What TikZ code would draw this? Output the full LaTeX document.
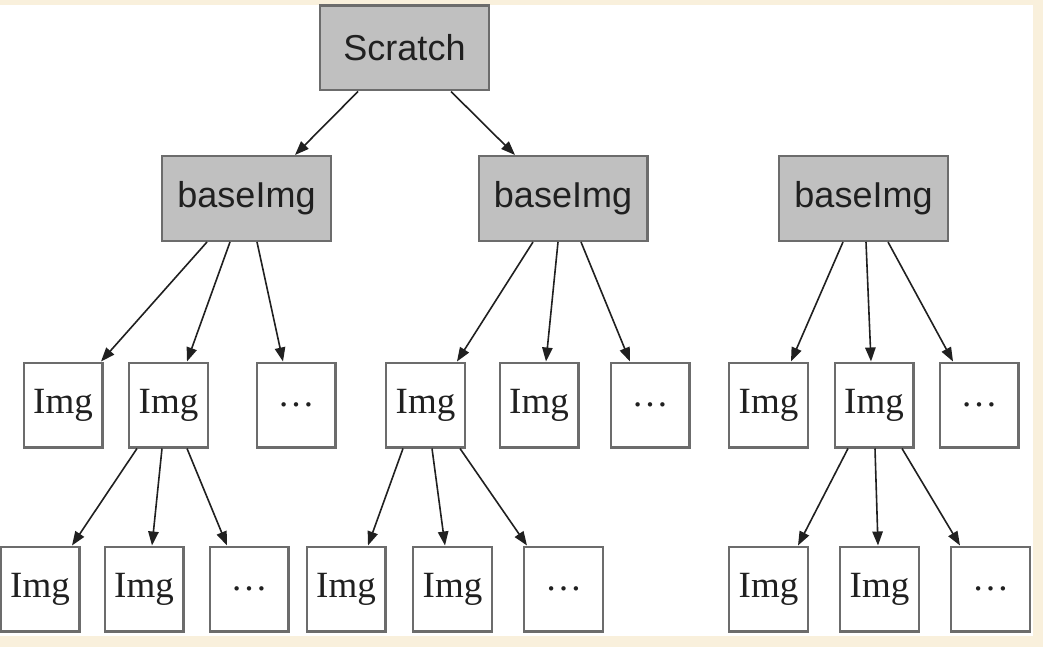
\documentclass[tikz,border=0pt]{standalone}
\usepackage{fontspec}
\setmainfont{Liberation Serif}
\setsansfont{Liberation Sans}
\usepackage{tikz}
\usetikzlibrary{arrows.meta, calc}
\definecolor{cream}{HTML}{F9F0DC}
\definecolor{basegray}{HTML}{C0C0C0}
\definecolor{boxgray}{HTML}{6C6C6C}
\definecolor{inkgray}{HTML}{202020}
\tikzstyle{base} = [rectangle, minimum width=84.3pt, minimum height=42.3pt, inner sep=0pt, text centered, draw=boxgray, line width=1.2pt, fill=basegray, text=inkgray, font=\sffamily\fontsize{18}{21}\selectfont]
\tikzstyle{img} = [rectangle, minimum width=39.3pt, minimum height=42.3pt, inner sep=0pt, text centered, draw=boxgray, line width=1.2pt, fill=white, text=inkgray, font=\fontsize{18.5}{21}\selectfont]
\tikzstyle{arrow} = [line width=0.8pt, draw=inkgray, -{Triangle[length=7pt,width=5.2pt]}]

\begin{document}
\begin{tikzpicture}[x=0.5pt, y=-0.5pt]
\useasboundingbox (0,0) rectangle (1043,647);
\fill [cream] (0,0) rectangle (1043,647);
\fill [white] (0,5) rectangle (1033,636);

\node (S) [base] at (404.5,48) {Scratch};
\node (b1) [base] at (246.5,198.5) {baseImg};
\node (b2) [base] at (563,198.5) {baseImg};
\node (b3) [base] at (863.5,198.5) {baseImg};

\node (i11) [img] at (63,405) {Img};
\node (i12) [img] at (168.5,405) {Img};
\node (i13) [img] at (296,405) {…};
\node (i21) [img] at (425.5,405) {Img};
\node (i22) [img] at (539,405) {Img};
\node (i23) [img] at (650,405) {…};
\node (i31) [img] at (768.5,405) {Img};
\node (i32) [img] at (874,405) {Img};
\node (i33) [img] at (979,405) {…};

\node (j1) [img] at (40,589) {Img};
\node (j2) [img] at (144,589) {Img};
\node (j3) [img] at (249,589) {…};
\node (j4) [img] at (346,589) {Img};
\node (j5) [img] at (452.5,589) {Img};
\node (j6) [img] at (563.5,589) {…};
\node (j7) [img] at (768.5,589) {Img};
\node (j8) [img] at (879.5,589) {Img};
\node (j9) [img] at (990.5,589) {…};

\draw [arrow] ($(S.south)+(-46.5,0)$) -- ($(b1.north)+(48.5,0)$);
\draw [arrow] ($(S.south)+(46.5,0)$) -- ($(b2.north)+(-48,0)$);

\draw [arrow] ($(b1.south)+(-39.5,0)$) -- ($(i11.north)+(38,0)$);
\draw [arrow] ($(b1.south)+(-16.5,0)$) -- ($(i12.north)+(18.5,0)$);
\draw [arrow] ($(b1.south)+(10.5,0)$) -- ($(i13.north)+(-13,0)$);
\draw [arrow] ($(b2.south)+(-30,0)$) -- ($(i21.north)+(31.5,0)$);
\draw [arrow] ($(b2.south)+(-5,0)$) -- ($(i22.north)+(7,0)$);
\draw [arrow] ($(b2.south)+(18,0)$) -- ($(i23.north)+(-20,0)$);
\draw [arrow] ($(b3.south)+(-20.5,0)$) -- ($(i31.north)+(22.5,0)$);
\draw [arrow] ($(b3.south)+(2.5,0)$) -- ($(i32.north)+(-3,0)$);
\draw [arrow] ($(b3.south)+(24.5,0)$) -- ($(i33.north)+(-26,0)$);

\draw [arrow] ($(i12.south)+(-31.5,0)$) -- ($(j1.north)+(32,0)$);
\draw [arrow] ($(i12.south)+(-6.5,0)$) -- ($(j2.north)+(8,0)$);
\draw [arrow] ($(i12.south)+(18.5,0)$) -- ($(j3.north)+(-22,0)$);
\draw [arrow] ($(i21.south)+(-22.5,0)$) -- ($(j4.north)+(22,0)$);
\draw [arrow] ($(i21.south)+(6.5,0)$) -- ($(j5.north)+(-7.5,0)$);
\draw [arrow] ($(i21.south)+(34.5,0)$) -- ($(j6.north)+(-36.5,0)$);
\draw [arrow] ($(i32.south)+(-26,0)$) -- ($(j7.north)+(29.5,0)$);
\draw [arrow] ($(i32.south)+(1,0)$) -- ($(j8.north)+(-1.5,0)$);
\draw [arrow] ($(i32.south)+(28,0)$) -- ($(j9.north)+(-30.5,0)$);
\end{tikzpicture}
\end{document}
